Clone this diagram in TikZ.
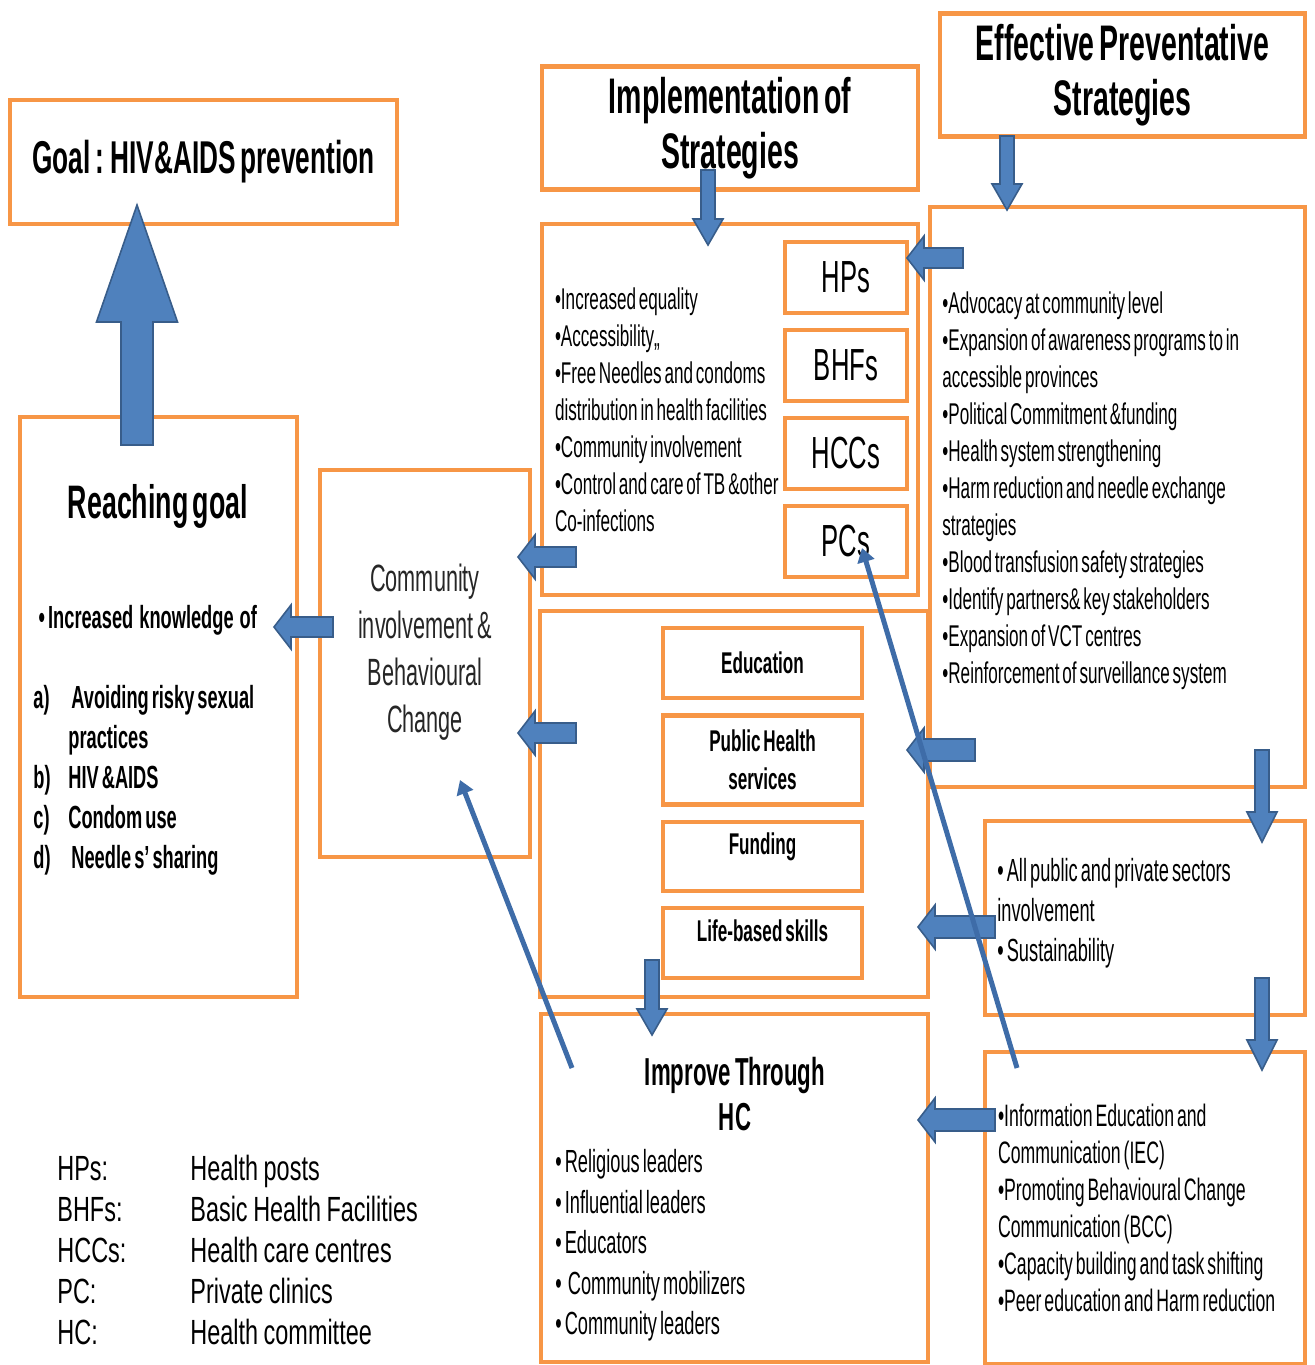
\documentclass[tikz,border=0pt]{standalone}
\usepackage{fontspec}
\setmainfont{Liberation Sans}[FakeStretch=0.57,WordSpace=0.6]
\newfontfamily\legendfont{Liberation Sans}[FakeStretch=0.67,WordSpace=0.85]
\usetikzlibrary{
positioning,
arrows.meta,
calc
}
\definecolor{boxorange}{HTML}{F79646}
\definecolor{arrowblue}{HTML}{4F81BD}
\definecolor{arrowedge}{HTML}{385D8A}
\definecolor{lineblue}{HTML}{3E6CA8}
\newcommand{\setfs}[2]{\fontsize{#1}{#2}\selectfont}
\newcommand{\natsp}{\spaceskip=0pt\xspaceskip=0pt\hyphenpenalty=10000\relax}
\tikzset{
box/.style={
draw=boxorange,
line width=2.2pt,
inner sep=0pt,
align=center
},
titlebox/.style={
box,
font=\bfseries\setfs{25pt}{27.5pt}
},
listbox/.style={
box,
align=left,
font=\setfs{15pt}{18.5pt}
},
listtext/.style={
anchor=north west,
align=left,
inner sep=0pt,
font=\setfs{15pt}{18.5pt}
},
hpbox/.style={
box,
minimum width=61pt,
minimum height=35.5pt,
font=\setfs{22.5pt}{25pt}
},
areabox/.style={
box,
minimum width=99.5pt,
font=\bfseries\setfs{15pt}{19pt}
},
fatarrow/.style args={#1/#2/#3}{
fill=arrowblue,
draw=arrowedge,
line width=0.8pt,
line join=miter,
to path={
($(\tikztostart)!#1!90:(\tikztotarget)$)
-- ($(\tikztotarget)!#3!(\tikztostart)!#1!90:(\tikztotarget)$)
-- ($(\tikztotarget)!#3!(\tikztostart)!#2!90:(\tikztotarget)$)
-- (\tikztotarget)
-- ($(\tikztotarget)!#3!(\tikztostart)!#2!-90:(\tikztotarget)$)
-- ($(\tikztotarget)!#3!(\tikztostart)!#1!-90:(\tikztotarget)$)
-- ($(\tikztostart)!#1!-90:(\tikztotarget)$)
-- cycle
}
},
thinarrow/.style={
draw=lineblue,
line width=2.5pt,
-{Triangle[length=7pt,width=8.5pt]}
}
}

\begin{document}
\begin{tikzpicture}[x=0.5pt,y=-0.5pt]
\useasboundingbox (0,0) rectangle (1314,1365);

% left column
\node[titlebox, font=\bfseries\setfs{23pt}{27pt}, minimum width=193.5pt, minimum height=62pt] (goal) at (203.5,162) {Goal : HIV\&AIDS prevention};
\node[box, minimum width=138.5pt, minimum height=290pt] (reach) at (158.5,707) {};
\node[font=\bfseries\setfs{23.5pt}{27pt}] (reachtitle) at (158,506) {Reaching goal};
\node[listtext, font=\bfseries\setfs{16pt}{20pt}] (reachlist) at (33,605) {%
\,• Increased\ \ knowledge\ \ of\\[20pt]
\makebox[17.5pt][l]{a)}\ Avoiding risky sexual\\
\hspace*{17.5pt}practices\\
\makebox[17.5pt][l]{b)}HIV \&AIDS\\
\makebox[17.5pt][l]{c)}Condom use\\
\makebox[17.5pt][l]{d)}\ Needle s’ sharing};
\node[box, minimum width=105pt, minimum height=193.5pt] (cbc) at (425,663.5) {};
\node[align=center, font=\setfs{19pt}{23.5pt}, text=black!85] (cbctext) at (425,652) {Community\\involvement \&\\Behavioural\\Change};

% implementation column
\node[titlebox, minimum width=188pt, minimum height=61.5pt] (impltitle) at (730,128) {Implementation of\\Strategies};
\node[listbox, minimum width=188pt, minimum height=185.5pt, text width=175pt] (impllist) at (730,409.5) {\natsp
•Increased equality\\
•Accessibility,,\\
•Free Needles and condoms\\
distribution in health facilities\\
•Community involvement\\
•Control and care of TB \&other\\
Co-infections};
\node[hpbox] (hps) at (846,277.5) {HPs};
\node[hpbox, below=6.3pt of hps] (bhfs) {BHFs};
\node[hpbox, below=6.3pt of bhfs] (hccs) {HCCs};
\node[hpbox, below=6.3pt of hccs] (pcs) {PCs};

\node[box, minimum width=194pt, minimum height=193pt] (mid) at (734,804) {};
\node[areabox, minimum height=35pt] (edu) at (762.5,663) {Education};
\node[areabox, minimum height=44.5pt, below=6.5pt of edu] (phs) {Public Health\\services};
\node[areabox, minimum height=34.5pt, text depth=13pt, below=6.5pt of phs] (fund) {Funding};
\node[areabox, minimum height=35pt, text depth=13pt, below=6.5pt of fund] (life) {Life-based skills};

\node[box, minimum width=193.5pt, minimum height=174pt] (ihc) at (734.5,1188) {};
\node[align=center, font=\bfseries\setfs{19.5pt}{22.5pt}] (ihctitle) at (735,1094) {Improve Through\\HC};
\node[listtext, font=\setfs{16pt}{20.25pt}] (ihclist) at (555,1149) {%
• Religious leaders\\
• Influential leaders\\
• Educators\\
•\ \ Community mobilizers\\
• Community leaders};

% strategies column
\node[titlebox, minimum width=182.5pt, minimum height=61.5pt] (efftitle) at (1122.5,75) {Effective Preventative\\Strategies};
\node[box, minimum width=187.5pt, minimum height=290pt] (efflist) at (1117.5,497) {};
\node[listtext] (efftext) at (942,291) {%
•Advocacy at community level\\
•Expansion of awareness programs to in\\
accessible provinces\\
•Political Commitment \&funding\\
•Health system strengthening\\
•Harm reduction and needle exchange\\
strategies\\
•Blood transfusion safety strategies\\
•Identify partners\& key stakeholders\\
•Expansion of VCT centres\\
•Reinforcement of surveillance system};
\node[box, minimum width=160pt, minimum height=97pt] (sect) at (1145,918) {};
\node[listtext, font=\setfs{16pt}{20pt}] (secttext) at (997,858) {%
• All public and private sectors\\
involvement\\
• Sustainability};
\node[listbox, minimum width=160pt, minimum height=156pt, text width=147pt, font=\setfs{15.5pt}{18.5pt}] (iec) at (1145,1208) {\natsp
•Information Education and\\
Communication (IEC)\\
•Promoting Behavioural Change\\
Communication (BCC)\\
•Capacity building and task shifting\\
•Peer education and Harm reduction};

% legend
\node[anchor=north west, inner sep=0pt, font=\legendfont\setfs{17.5pt}{20.5pt}] (legend) at (57,1151) {%
\begin{tabular}{@{}p{66.5pt}@{}l@{}}
HPs: & Health posts\\
BHFs: & Basic Health Facilities\\
HCCs: & Health care\ centres\\
PC: & Private clinics\\
HC: & Health committee
\end{tabular}};

% block arrows
\coordinate (up0) at (137,445);
\coordinate (up1) at (137,205);
\coordinate (im0) at (708,170);
\coordinate (im1) at (708,245);
\coordinate (ef0) at (1007,136);
\coordinate (ef1) at (1007,210);
\coordinate (hp0) at (963,258);
\coordinate (hp1) at (907,258);
\coordinate (ic0) at (576,557);
\coordinate (ic1) at (518,557);
\coordinate (mc0) at (576,733);
\coordinate (mc1) at (518,733);
\coordinate (cr0) at (333,627);
\coordinate (cr1) at (274,627);
\coordinate (ep0) at (975,750);
\coordinate (ep1) at (907,750);
\coordinate (sl0) at (995,927);
\coordinate (sl1) at (918,927);
\coordinate (ih0) at (995,1120);
\coordinate (ih1) at (918,1120);
\coordinate (md0) at (652,960);
\coordinate (md1) at (652,1035);
\coordinate (es0) at (1262,750);
\coordinate (es1) at (1262,842);
\coordinate (si0) at (1262,978);
\coordinate (si1) at (1262,1070);

\draw[fatarrow=8pt/20.25pt/58.5pt] (up0) to (up1);
\draw[fatarrow=3.5pt/7.5pt/13pt] (im0) to (im1);
\draw[fatarrow=3.5pt/7.5pt/13pt] (ef0) to (ef1);
\draw[fatarrow=5pt/11pt/8.5pt] (hp0) to (hp1);
\draw[fatarrow=5pt/11pt/8.5pt] (ic0) to (ic1);
\draw[fatarrow=5pt/11pt/8.5pt] (mc0) to (mc1);
\draw[fatarrow=5pt/11pt/8.5pt] (cr0) to (cr1);
\draw[fatarrow=5.5pt/11pt/8.5pt] (ep0) to (ep1);
\draw[fatarrow=5.5pt/11pt/8.5pt] (sl0) to (sl1);
\draw[fatarrow=5.5pt/11pt/8.5pt] (ih0) to (ih1);
\draw[fatarrow=3.5pt/7.5pt/13pt] (md0) to (md1);
\draw[fatarrow=3.5pt/7.5pt/15pt] (es0) to (es1);
\draw[fatarrow=3.5pt/7.5pt/15pt] (si0) to (si1);

% thin arrows
\coordinate (hc0) at (572,1068);
\coordinate (hc1) at (460,780);
\coordinate (pc0) at (1017,1068);
\coordinate (pc1) at (862,548);
\draw[thinarrow] (hc0) -- (hc1);
\draw[thinarrow] (pc0) -- (pc1);
\end{tikzpicture}
\end{document}
